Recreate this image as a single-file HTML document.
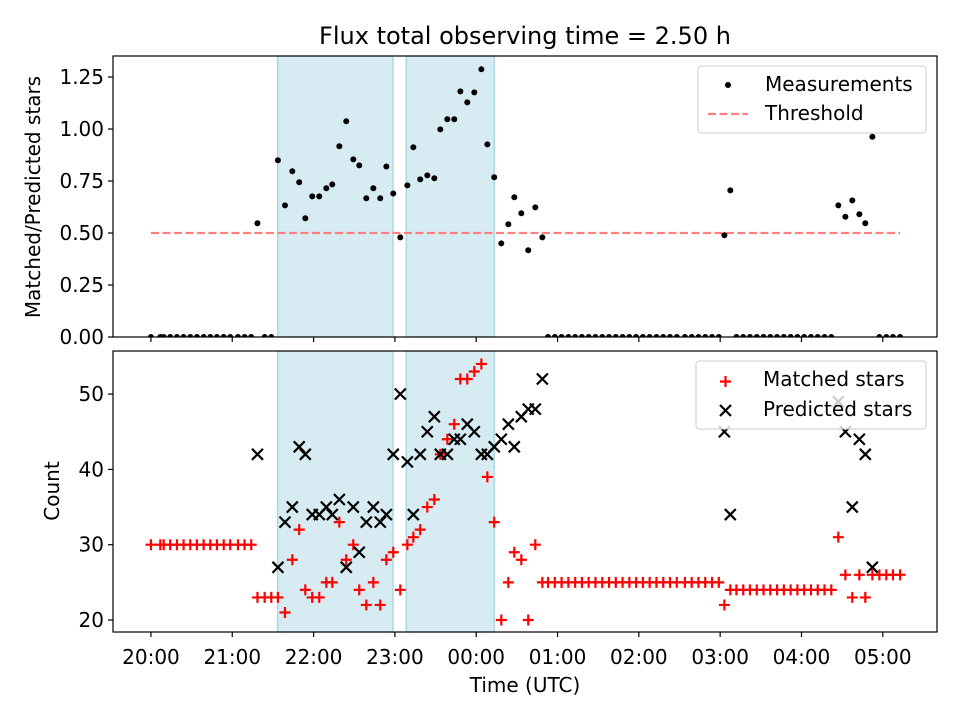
<!DOCTYPE html>
<html><head><meta charset="utf-8">
<style>
html,body{margin:0;padding:0;background:#fff;}
svg{display:block;font-family:"DejaVu Sans","Liberation Sans",sans-serif;}
</style></head>
<body>
<svg id="fig" width="960" height="720" viewBox="0 0 960 720"></svg>
<script>
// ---- data (time in minutes since 20:00 UTC) ----
const times = [0,6.9,9.4,14.2,19.2,24.1,29,33.9,38.9,43.8,48.7,53.7,58.5,64.2,69.1,74,
78.6,83.9,88.8,93.7,98.9,104.3,109.4,113.9,119,124.2,129.4,133.8,139,144.1,149.3,153.7,158.9,164.1,169.2,173.7,178.8,
184,189.2,193.6,198.7,203.9,209.1,213.5,218.7,223.8,228.3,233.4,238.6,243.8,248.2,253.3,258.5,263.7,268.1,273.3,278.4,283.6,288.8,
293,298,303,308,313,318,323,328,333,338,343,348,353,358,363,368,373,378,383,388,394,399,404,409,414,419,
423.1,427.5,432,437,442,447,452,457,462,467,472,477,482,487,492,497,502,
507.2,512.4,517.5,522.7,527.1,532.3,537.5,542.6,547.5,552.8];
const matched = [30,30,30,30,30,30,30,30,30,30,30,30,30,30,30,30,
23,23,23,23,21,28,32,24,23,23,25,25,33,28,30,24,22,25,22,28,29,
24,30,31,32,35,36,42,44,46,52,52,53,54,39,33,20,25,29,28,20,30,25,
25,25,25,25,25,25,25,25,25,25,25,25,25,25,25,25,25,25,25,25,25,25,25,25,25,25,
22,24,24,24,24,24,24,24,24,24,24,24,24,24,24,24,24,
31,26,23,26,23,26,26,26,26,26];
const predicted = [null,null,null,null,null,null,null,null,null,null,null,null,null,null,null,null,
42,null,null,27,33,35,43,42,34,34,35,34,36,27,35,29,33,35,33,34,42,
50,41,34,42,45,47,42,42,44,44,46,45,42,42,43,44,46,43,47,48,48,52,
null,null,null,null,null,null,null,null,null,null,null,null,null,null,null,null,null,null,null,null,null,null,null,null,null,null,
45,34,null,null,null,null,null,null,null,null,null,null,null,null,null,null,null,
49,45,35,44,42,27,null,null,null,null];
const measurements = [0,0,0,0,0,0,0,0,0,0,0,0,0,0,0,0,
0.547,0,0,0.85,0.633,0.797,0.744,0.571,0.676,0.676,0.715,0.734,0.917,1.037,0.854,0.825,0.667,0.715,0.667,0.82,0.69,
0.479,0.729,0.912,0.758,0.777,0.763,0.998,1.047,1.047,1.181,1.128,1.176,1.287,0.926,0.768,0.45,0.542,0.672,0.595,0.417,0.623,0.479,
0,0,0,0,0,0,0,0,0,0,0,0,0,0,0,0,0,0,0,0,0,0,0,0,0,0,
0.489,0.705,0,0,0,0,0,0,0,0,0,0,0,0,0,0,0,
0.633,0.578,0.657,0.59,0.547,0.963,0,0,0,0];
const spans = [[93.5,178.6],[188.4,253.3]];
const threshold = 0.5;
const thresholdRange = [0,552.8];
const xTickVals = [0,60,120,180,240,300,360,420,480,540];
const xTickLabels = ["20:00","21:00","22:00","23:00","00:00","01:00","02:00","03:00","04:00","05:00"];
const topYTicks = [0,0.25,0.5,0.75,1.0,1.25];
const topYLabels = ["0.00","0.25","0.50","0.75","1.00","1.25"];
const botYTicks = [20,30,40,50];

// ---- layout ----
const L=113,R=937,T1=56,B1=337,T2=351,B2=632;
const xmin=-28, xmax=580;
const X = m => L + (m - xmin)/(xmax-xmin)*(R-L);
const Y1 = v => B1 - v/1.351*(B1-T1);
const y2min=18.41, y2max=55.72;
const Y2 = v => B2 - (v-y2min)/(y2max-y2min)*(B2-T2);
const FS=20;

const NS="http://www.w3.org/2000/svg";
const svg=document.getElementById('fig');
function mk(tag,attrs,parent){const e=document.createElementNS(NS,tag);for(const k in attrs)e.setAttribute(k,attrs[k]);(parent||svg).appendChild(e);return e;}

let t=mk('text',{x:525,y:44,'text-anchor':'middle','font-size':24,fill:'#000'});


t.textContent='Flux total observing time = 2.50 h';

function panel(top,bot,name){
  const g=mk('g',{});
  
  
  spans.forEach((s,i)=>{
    const r=mk('rect',{x:X(s[0]),y:top,width:X(s[1])-X(s[0]),height:bot-top,fill:'#add8e6','fill-opacity':0.5,stroke:'#add8e6','stroke-width':1.5},g);
    
    
  });
  return g;
}

const gTop=panel(T1,B1,'ratio-panel');
const th=mk('line',{x1:X(thresholdRange[0]),x2:X(thresholdRange[1]),y1:Y1(threshold),y2:Y1(threshold),stroke:'#ff7f7f','stroke-width':2.2,'stroke-dasharray':'8,3.5'},gTop);


times.forEach((m,i)=>{
  const c=mk('circle',{cx:X(m),cy:Y1(measurements[i]),r:3,fill:'#000'},gTop);
  
  
});

const gBot=panel(T2,B2,'count-panel');
times.forEach((m,i)=>{
  const x=X(m),y=Y2(matched[i]),s=5.5;
  const p=mk('path',{d:`M${x-s},${y}H${x+s}M${x},${y-s}V${y+s}`,stroke:'#ff0000','stroke-width':2.2,fill:'none'},gBot);
  
  
});
times.forEach((m,i)=>{
  if(predicted[i]===null)return;
  const x=X(m),y=Y2(predicted[i]),s=5.5;
  const p=mk('path',{d:`M${x-s},${y-s}L${x+s},${y+s}M${x-s},${y+s}L${x+s},${y-s}`,stroke:'#000','stroke-width':2.2,fill:'none'},gBot);
  
  
});

mk('rect',{x:L-1,y:B1+0.5,width:R-L+2,height:T2-B1-1,fill:'#fff'});

function frame(top,bot,name){
  const r=mk('rect',{x:L,y:top,width:R-L,height:bot-top,fill:'none',stroke:'#000','stroke-width':1.2});
  
  
  xTickVals.forEach(v=>{mk('line',{x1:X(v),x2:X(v),y1:bot,y2:bot+5,stroke:'#000','stroke-width':1.2});});
}
frame(T1,B1,'ratio-axes-frame');
frame(T2,B2,'count-axes-frame');
xTickVals.forEach((v,i)=>{
  const tx=mk('text',{x:X(v),y:664,'text-anchor':'middle','font-size':FS});
  
  
  tx.textContent=xTickLabels[i];
});
topYTicks.forEach((v,i)=>{
  mk('line',{x1:L-5,x2:L,y1:Y1(v),y2:Y1(v),stroke:'#000','stroke-width':1.2});
  const tx=mk('text',{x:L-9,y:Y1(v)+7,'text-anchor':'end','font-size':FS});
  
  
  tx.textContent=topYLabels[i];
});
botYTicks.forEach(v=>{
  mk('line',{x1:L-5,x2:L,y1:Y2(v),y2:Y2(v),stroke:'#000','stroke-width':1.2});
  const tx=mk('text',{x:L-9,y:Y2(v)+7,'text-anchor':'end','font-size':FS});
  
  
  tx.textContent=String(v);
});
let yl=mk('text',{x:0,y:0,'text-anchor':'middle','font-size':FS,transform:'translate(40,197) rotate(-90)'});


yl.textContent='Matched/Predicted stars';
let yl2=mk('text',{x:0,y:0,'text-anchor':'middle','font-size':FS,transform:'translate(59,491) rotate(-90)'});


yl2.textContent='Count';
let xl=mk('text',{x:525,y:692,'text-anchor':'middle','font-size':FS});


xl.textContent='Time (UTC)';

function legend(x,y,w,h,name){
  const g=mk('g',{});
  
  
  mk('rect',{x:x,y:y,width:w,height:h,rx:3,fill:'#fff','fill-opacity':0.8,stroke:'#ccc','stroke-width':1},g);
  return g;
}
const lg1=legend(698,66,228,67,'ratio-legend');
mk('circle',{cx:728,cy:85,r:3,fill:'#000'},lg1);
let e1=mk('text',{x:765,y:91,'font-size':FS},lg1);


e1.textContent='Measurements';
mk('line',{x1:708,x2:748,y1:114,y2:114,stroke:'#ff7f7f','stroke-width':2.2,'stroke-dasharray':'8,3.5'},lg1);
let e2=mk('text',{x:765,y:120,'font-size':FS},lg1);


e2.textContent='Threshold';

const lg2=legend(696,361,230,68,'count-legend');
mk('path',{d:'M720,381.5H731M725.5,376V387',stroke:'#ff0000','stroke-width':2.2},lg2);
let e3=mk('text',{x:763,y:386,'font-size':FS},lg2);


e3.textContent='Matched stars';
mk('path',{d:'M720,405L731,416M720,416L731,405',stroke:'#000','stroke-width':2.2},lg2);
let e4=mk('text',{x:763,y:416,'font-size':FS},lg2);


e4.textContent='Predicted stars';
</script>
</body></html>
